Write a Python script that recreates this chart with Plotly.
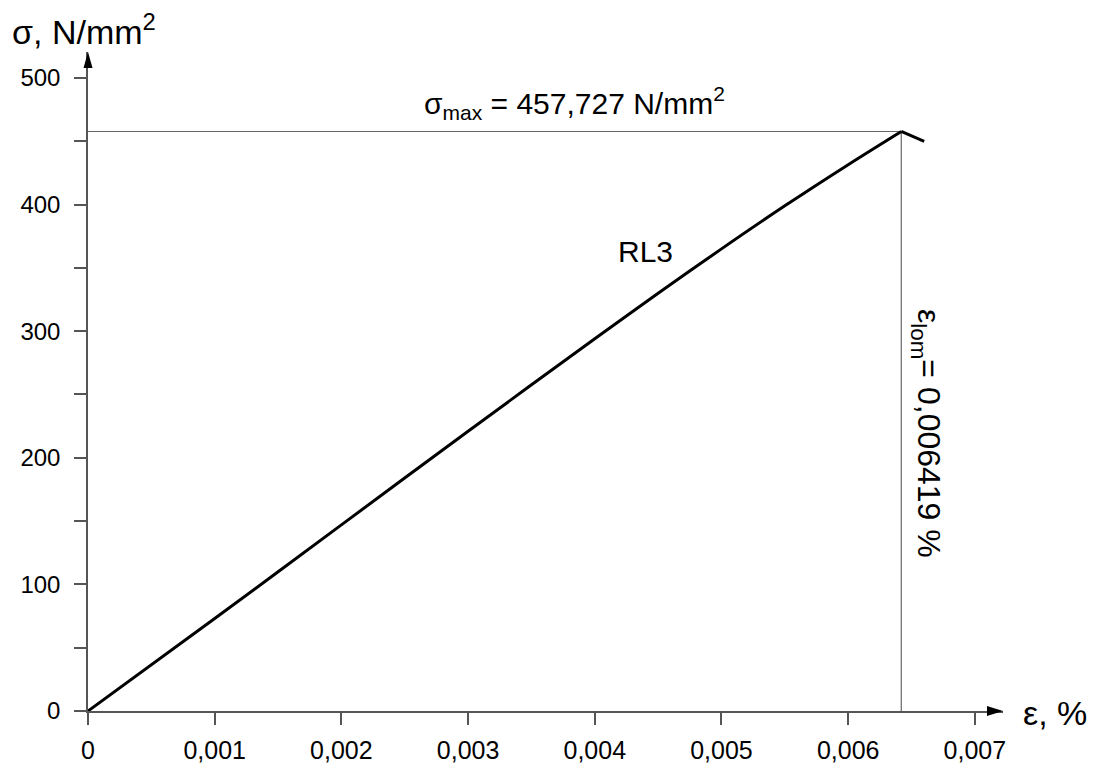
import plotly.graph_objects as go

# ---- data ----
strain = [0, 0.001, 0.002, 0.003, 0.004, 0.0045, 0.005, 0.0055, 0.006, 0.006419]
stress = [0, 73, 147, 221, 294, 330, 365, 399, 431.5, 457.727]
drop_strain = [0.006419, 0.0066]
drop_stress = [457.727, 450]
sigma_max = 457.727
eps_lom = 0.006419
x_tickvals = [0, 0.001, 0.002, 0.003, 0.004, 0.005, 0.006, 0.007]
x_ticktext = ["0", "0,001", "0,002", "0,003", "0,004", "0,005", "0,006", "0,007"]
y_tickvals = [0, 100, 200, 300, 400, 500]
y_ticktext = ["0", "100", "200", "300", "400", "500"]

OFF = 8  # page body margin
W, H = 1092, 755
L, T = 80, 44
R = W - 995
B = H - 703
PW, PH = W - L - R, H - T - B
X_MAX = 0.007222
Y_MAX = 520.5
FONT = "Liberation Sans, Arial, sans-serif"
AXC = "#555555"

def px(xp):
    # xp: screen pixel
    return (xp - OFF - L) / PW

def py(yp):
    return (H - B - (yp - OFF)) / PH

fig = go.Figure()

# reference lines to the peak
fig.add_trace(go.Scatter(x=[0, eps_lom], y=[sigma_max, sigma_max], mode="lines",
                         line=dict(color="#666666", width=1.2), showlegend=False, hoverinfo="skip"))
fig.add_trace(go.Scatter(x=[eps_lom, eps_lom], y=[0, sigma_max], mode="lines",
                         line=dict(color="#666666", width=1.2), showlegend=False, hoverinfo="skip"))
# curve
fig.add_trace(go.Scatter(x=strain, y=stress, mode="lines",
                         line=dict(color="black", width=3, shape="spline", smoothing=0.8),
                         showlegend=False, cliponaxis=False))
fig.add_trace(go.Scatter(x=drop_strain, y=drop_stress, mode="lines",
                         line=dict(color="black", width=3), showlegend=False, cliponaxis=False))

# arrowheads
fig.add_shape(type="path", xref="paper", yref="paper",
              path=f"M {px(88)},{py(52)} L {px(83.5)},{py(68)} L {px(92.5)},{py(68)} Z",
              fillcolor="black", line=dict(width=0))
fig.add_shape(type="path", xref="paper", yref="paper",
              path=f"M {px(1003)},{py(711)} L {px(987)},{py(706)} L {px(987)},{py(716)} Z",
              fillcolor="black", line=dict(width=0))

# axis titles
fig.add_annotation(text="σ, N/mm<sup>2</sup>", xref="paper", yref="paper",
                   x=px(10), y=py(29), xanchor="left", yanchor="middle", showarrow=False,
                   font=dict(family=FONT, size=34, color="black"))
fig.add_annotation(text="ε, %", xref="paper", yref="paper",
                   x=px(1021), y=py(713), xanchor="left", yanchor="middle", showarrow=False,
                   font=dict(family=FONT, size=34, color="black"))

# labels
fig.add_annotation(text="σ<sub>max</sub> = 457,727 N/mm<sup>2</sup>", xref="paper", yref="paper",
                   x=px(574), y=py(103), xanchor="center", yanchor="middle", showarrow=False,
                   font=dict(family=FONT, size=30, color="black"))
fig.add_annotation(text="ε<sub>lom</sub>= 0,006419 %", xref="paper", yref="paper",
                   x=px(927), y=py(433), xanchor="center", yanchor="middle", showarrow=False,
                   textangle=90, font=dict(family=FONT, size=32, color="black"))
fig.add_annotation(text="RL3", xref="paper", yref="paper",
                   x=px(645), y=py(251), xanchor="center", yanchor="middle", showarrow=False,
                   font=dict(family=FONT, size=30, color="black"))

fig.update_layout(
    width=W, height=H,
    margin=dict(l=L, r=R, t=T, b=B, autoexpand=False),
    paper_bgcolor="white", plot_bgcolor="white",
    font=dict(family=FONT, size=25, color="black"),
    xaxis=dict(range=[0, X_MAX], showgrid=False, zeroline=False, showline=True, automargin=False,
               linecolor=AXC, linewidth=1.5, ticks="outside", ticklen=12, tickwidth=1.5,
               tickcolor=AXC, tickmode="array", tickvals=x_tickvals, ticktext=x_ticktext,
               ticklabelstandoff=4, tickfont=dict(family=FONT, size=25, color="black")),
    yaxis=dict(range=[0, Y_MAX], showgrid=False, zeroline=False, showline=True, automargin=False,
               linecolor=AXC, linewidth=1.5, ticks="outside", ticklen=12, tickwidth=1.5,
               tickcolor=AXC, tickmode="array", tickvals=y_tickvals, ticktext=y_ticktext,
               minor=dict(tickmode="linear", tick0=0, dtick=50, ticks="outside", ticklen=12,
                          tickwidth=1.5, tickcolor=AXC, showgrid=False),
               ticklabelstandoff=9, tickfont=dict(family=FONT, size=24, color="black")),
)

fig.write_html("out.html")
